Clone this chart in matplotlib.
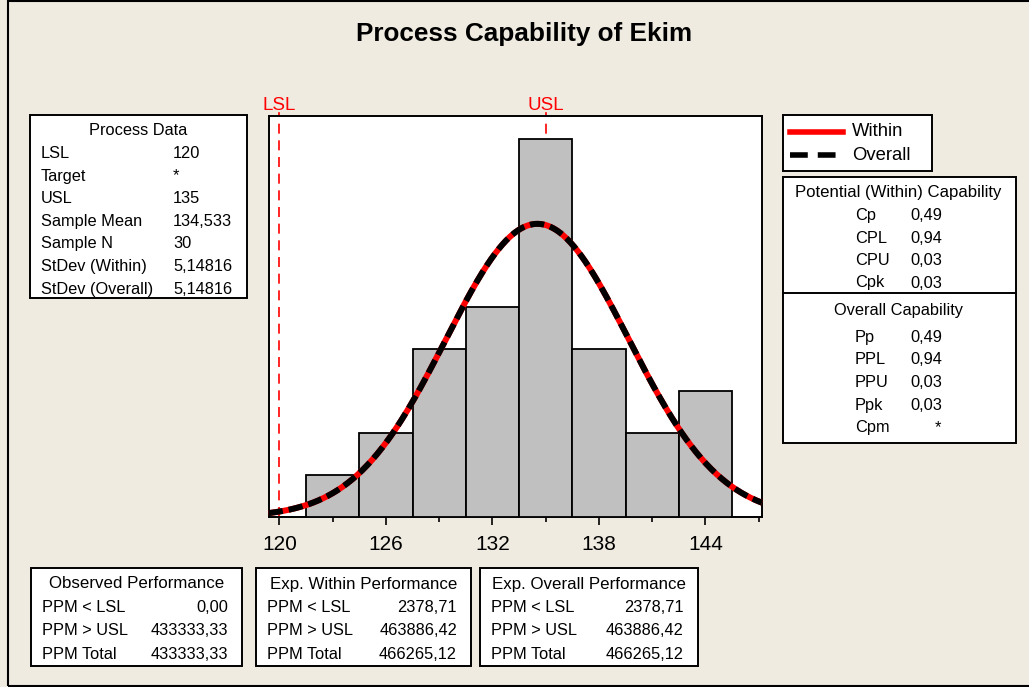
import numpy as np
import matplotlib
matplotlib.use("Agg")
import matplotlib.pyplot as plt
from matplotlib.patches import Rectangle
from matplotlib.lines import Line2D

plt.rcParams['font.family'] = ['Liberation Sans', 'DejaVu Sans']

# ---------------- data ----------------
bin_centers = [123, 126, 129, 132, 135, 138, 141, 144]
counts = [1, 2, 4, 5, 9, 4, 2, 3]
bin_width = 3
lsl = 120
usl = 135
sample_mean = 134.533
stdev_within = 5.14816
stdev_overall = 5.14816
sample_n = 30
xticks_major = [120, 126, 132, 138, 144]

process_labels = ["LSL", "Target", "USL", "Sample Mean", "Sample N", "StDev (Within)", "StDev (Overall)"]
process_values = ["120", "*", "135", "134,533", "30", "5,14816", "5,14816"]

within_labels = ["Cp", "CPL", "CPU", "Cpk"]
within_values = ["0,49", "0,94", "0,03", "0,03"]
overall_labels = ["Pp", "PPL", "PPU", "Ppk", "Cpm"]
overall_values = ["0,49", "0,94", "0,03", "0,03", "*"]

perf_titles = ["Observed Performance", "Exp. Within Performance", "Exp. Overall Performance"]
perf_labels = ["PPM < LSL", "PPM > USL", "PPM Total"]
perf_values = [["0,00", "433333,33", "433333,33"],
               ["2378,71", "463886,42", "466265,12"],
               ["2378,71", "463886,42", "466265,12"]]

# ---------------- figure ----------------
W, H = 1029, 687
BG = "#EFEBE1"
FS = 11.8
fig = plt.figure(figsize=(W / 100, H / 100), dpi=100, facecolor=BG)


def fx(px):
    return px / W


def fy(py):
    return 1 - py / H


def box(x0, y0, x1, y1, lw=1.4):
    fig.patches.append(Rectangle((fx(x0), fy(y1)), fx(x1) - fx(x0), fy(y0) - fy(y1),
                                 transform=fig.transFigure, facecolor="white",
                                 edgecolor="black", lw=lw, zorder=1))


def txt(x, y, s, ha="left", size=FS, color="black", weight="normal"):
    fig.text(fx(x), fy(y), s, ha=ha, va="center", fontsize=size, color=color,
             fontweight=weight, zorder=3)


# outer border
fig.patches.append(Rectangle((fx(8), fy(686)), fx(1040) - fx(8), fy(1) - fy(686),
                             transform=fig.transFigure, facecolor="none",
                             edgecolor="black", lw=1.5, zorder=0))

# title
txt(524, 34, "Process Capability of Ekim", ha="center", size=18.8, weight="bold")

# ---------------- main axes ----------------
ax_l, ax_r, ax_t, ax_b = 268.6, 762, 116, 517
ax = fig.add_axes([fx(ax_l), fy(ax_b), fx(ax_r) - fx(ax_l), fy(ax_t) - fy(ax_b)])
ax.set_facecolor("white")
ax.set_xlim(119.39, 147.19)
ax.set_ylim(0, 9.54)

ax.bar(bin_centers, counts, width=bin_width, color="#C0C0C0", edgecolor="black",
       linewidth=1.3, zorder=3)

# spec lines
for v, name in ((lsl, "LSL"), (usl, "USL")):
    ax.axvline(v, color="red", lw=1.2, dashes=(6, 4), zorder=2)
    ax.plot([v, v], [1.0, 1.008], transform=ax.get_xaxis_transform(), color="red",
            lw=1.2, clip_on=False, zorder=2)
    ax.text(v, 1.004, name, transform=ax.get_xaxis_transform(),
            ha="center", va="bottom", color="red", fontsize=13.5)

# normal curves
xs = np.linspace(119.39, 147.19, 400)
scale = sample_n * bin_width
y_within = scale * np.exp(-0.5 * ((xs - sample_mean) / stdev_within) ** 2) / (stdev_within * np.sqrt(2 * np.pi))
y_overall = scale * np.exp(-0.5 * ((xs - sample_mean) / stdev_overall) ** 2) / (stdev_overall * np.sqrt(2 * np.pi))
ax.plot(xs, y_within, color="red", lw=4.3, zorder=4, clip_on=False, solid_capstyle="butt")
ax.plot(xs, y_overall, color="black", lw=4.3, dashes=(2.4, 1.0), zorder=5, clip_on=False)

ax.set_xticks(xticks_major)
ax.set_xticks(np.arange(123, 148, 6), minor=True)
ax.tick_params(axis="x", which="major", length=6, width=1.2, labelsize=15, pad=7, direction="out")
ax.tick_params(axis="x", which="minor", length=3.6, width=1.2, direction="out")
ax.set_yticks([])
for sp in ax.spines.values():
    sp.set_linewidth(1.4)

# ---------------- Process Data box ----------------
box(30, 115, 247, 298)
txt(138, 130.5, "Process Data", ha="center")
y0 = 153.5
for i, (lab, val) in enumerate(zip(process_labels, process_values)):
    yy = y0 + i * 22.6
    txt(41, yy, lab)
    txt(173, yy, val)

# ---------------- legend ----------------
box(783, 115, 932, 171)
fig.lines.append(Line2D([fx(790), fx(843)], [fy(131.5), fy(131.5)], transform=fig.transFigure,
                        color="red", lw=4, zorder=3))
fig.lines.append(Line2D([fx(790), fx(843)], [fy(155), fy(155)], transform=fig.transFigure,
                        color="black", lw=4, dashes=(3.2, 1.8), zorder=3))
txt(852, 131.5, "Within", size=13.3)
txt(852, 155, "Overall", size=13.3)

# ---------------- capability box ----------------
box(783, 177, 1016, 443)
fig.lines.append(Line2D([fx(783), fx(1016)], [fy(293), fy(293)], transform=fig.transFigure,
                        color="black", lw=1.4, zorder=3))
txt(898, 193, "Potential (Within) Capability", ha="center", size=12.1)
for i, (lab, val) in enumerate(zip(within_labels, within_values)):
    yy = 215.5 + i * 22.5
    txt(855, yy, lab)
    txt(910, yy, val)
txt(898, 311, "Overall Capability", ha="center")
for i, (lab, val) in enumerate(zip(overall_labels, overall_values)):
    yy = 337.5 + i * 22.5
    txt(855, yy, lab)
    if val == "*":
        txt(938, yy, val, ha="center")
    else:
        txt(910, yy, val)

# ---------------- performance boxes ----------------
perf_boxes = [(31, 242), (256, 471), (480, 698)]
for (bx0, bx1), title, vals in zip(perf_boxes, perf_titles, perf_values):
    box(bx0, 568, bx1, 666)
    txt((bx0 + bx1) / 2, 584, title, ha="center", size=12.2)
    for i, (lab, val) in enumerate(zip(perf_labels, vals)):
        yy = 607.5 + i * 23.3
        txt(bx0 + 11, yy, lab)
        txt(bx1 - 14, yy, val, ha="right")

fig.savefig("out.png", dpi=100, facecolor=BG)
